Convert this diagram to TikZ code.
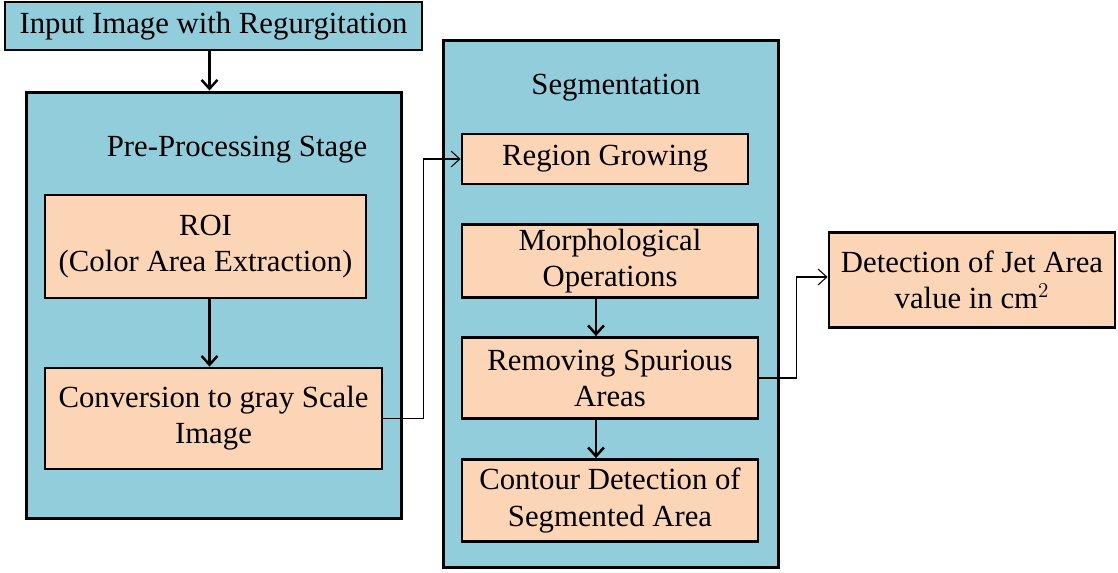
\documentclass[tikz,border=0pt]{standalone}
\usepackage{fontspec}
\setmainfont{Liberation Serif}
\usetikzlibrary{positioning,arrows.meta}
\definecolor{stageblue}{HTML}{92CDDC}
\definecolor{peach}{HTML}{FBD5B5}

\begin{document}
\begin{tikzpicture}[x=0.02cm, y=-0.02cm, >={Straight Barb[length=5pt,width=9pt]},
  font=\fontsize{17.5}{20.5}\selectfont,
  stage/.style={draw, fill=stageblue, line width=1.7pt, inner sep=0pt},
  procbox/.style={draw, fill=peach, line width=1.6pt, align=center, inner sep=0pt},
  flow/.style={->, line width=1.4pt},
  link/.style={->, line width=0.6pt}]
  \useasboundingbox (0,0) rectangle (1118,573);

  % stages
  \node (input) [stage, line width=1.1pt, minimum width=8.34cm, minimum height=0.96cm]
    at (213.5,26) {Input Image with Regurgitation};
  \node (pre) [stage, minimum width=7.52cm, minimum height=8.54cm] at (214,305.5) {};
  \node (pretitle) at (237,150) {Pre-Processing Stage};
  \node (seg) [stage, minimum width=6.72cm, minimum height=10.56cm] at (611,304) {};
  \node (segtitle) at (616,88) {Segmentation};

  % pre-processing steps
  \node (roi) [procbox, minimum width=6.42cm, minimum height=2.06cm]
    at (205.5,246.5) {ROI\\(Color Area Extraction)};
  \node (conv) [procbox, minimum width=6.74cm, minimum height=2.02cm]
    at (213.5,418.5) {Conversion to gray Scale\\Image};

  % segmentation steps
  \node (grow) [procbox, minimum width=5.72cm, minimum height=1.0cm]
    at (605,159) {Region Growing};
  \node (morph) [procbox, minimum width=5.92cm, minimum height=1.46cm]
    at (610,261) {Morphological\\Operations};
  \node (remove) [procbox, minimum width=5.92cm, minimum height=1.62cm]
    at (610,378) {Removing Spurious\\Areas};
  \node (contour) [procbox, minimum width=5.92cm, minimum height=1.64cm]
    at (610,500.5) {Contour Detection of\\Segmented Area};

  \node (detect) [procbox, minimum width=5.72cm, minimum height=1.9cm]
    at (972,280) {Detection of Jet Area\\value in cm$^2$};

  \draw[flow] ([xshift=-0.08cm]input.south) -- ([xshift=-0.08cm]input.south |- pre.north);
  \draw[flow] ([xshift=0.08cm]roi.south) -- ([xshift=0.08cm]roi.south |- conv.north);
  \draw[flow] ([xshift=-0.28cm]morph.south) -- ([xshift=-0.28cm]remove.north);
  \draw[flow] ([xshift=-0.28cm]remove.south) -- ([xshift=-0.28cm]contour.north);
  \draw[link] (conv.east) -- ++(40,0) |- (grow.west);
  \draw[link] (remove.east) -- ++(37,0) |- ([yshift=0.06cm]detect.west);
\end{tikzpicture}
\end{document}
